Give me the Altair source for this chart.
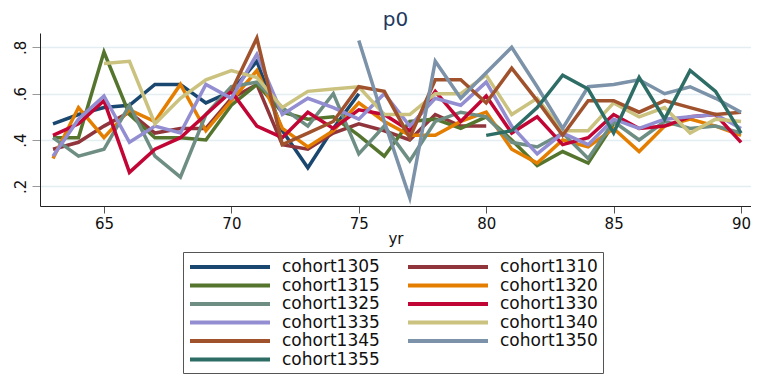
import altair as alt
import pandas as pd

cohorts = ["cohort1305", "cohort1310", "cohort1315", "cohort1320", "cohort1325", "cohort1330",
           "cohort1335", "cohort1340", "cohort1345", "cohort1350", "cohort1355"]
colors = ["#1a476f", "#90353b", "#55752f", "#e37e00", "#6e8e84", "#c10534",
          "#938dd2", "#cac27e", "#a0522d", "#7b92a8", "#2d6d66"]

# first year of each cohort's series
start_years = [63, 63, 63, 63, 63, 63, 63, 65, 70, 75, 80]

c1305 = [0.47, 0.51, 0.54, 0.55, 0.64, 0.64, 0.56, 0.61, 0.74, 0.44, 0.28, 0.45, 0.60]
c1310 = [0.36, 0.39, 0.46, 0.52, 0.43, 0.45, 0.45, 0.58, 0.64, 0.38, 0.36, 0.43, 0.47, 0.44,
         0.40, 0.51, 0.46, 0.46]
c1315 = [0.41, 0.41, 0.78, 0.51, 0.41, 0.41, 0.40, 0.55, 0.64, 0.52, 0.49, 0.50, 0.42, 0.33,
         0.48, 0.49, 0.45, 0.50, 0.40, 0.29, 0.35, 0.30, 0.47]
c1320 = [0.32, 0.54, 0.41, 0.53, 0.48, 0.64, 0.44, 0.57, 0.70, 0.45, 0.37, 0.44, 0.56, 0.48,
         0.42, 0.42, 0.48, 0.52, 0.36, 0.30, 0.40, 0.37, 0.45, 0.35, 0.46, 0.49, 0.46, 0.42]
c1325 = [0.41, 0.33, 0.36, 0.55, 0.33, 0.24, 0.51, 0.63, 0.65, 0.54, 0.46, 0.60, 0.34, 0.46,
         0.31, 0.48, 0.52, 0.50, 0.39, 0.37, 0.43, 0.32, 0.48, 0.40, 0.48, 0.45, 0.46, 0.43]
c1330 = [0.42, 0.47, 0.57, 0.26, 0.36, 0.41, 0.51, 0.61, 0.46, 0.41, 0.52, 0.45, 0.53, 0.51,
         0.44, 0.61, 0.48, 0.59, 0.43, 0.50, 0.38, 0.41, 0.51, 0.45, 0.46, 0.50, 0.51, 0.39]
c1335 = [0.33, 0.49, 0.59, 0.39, 0.46, 0.43, 0.64, 0.58, 0.77, 0.51, 0.58, 0.54, 0.49, 0.60,
         0.46, 0.58, 0.55, 0.65, 0.46, 0.34, 0.43, 0.38, 0.49, 0.45, 0.49, 0.50, 0.51, 0.45]
c1340 = [0.73, 0.74, 0.47, 0.58, 0.66, 0.70, 0.67, 0.54, 0.61, 0.62, 0.63, 0.51, 0.51, 0.60,
         0.60, 0.68, 0.51, 0.58, 0.44, 0.44, 0.56, 0.50, 0.54, 0.43, 0.49, 0.48]
c1345 = [0.61, 0.84, 0.38, 0.43, 0.48, 0.63, 0.61, 0.41, 0.66, 0.66, 0.56, 0.71, 0.57, 0.42,
         0.57, 0.57, 0.52, 0.57, 0.54, 0.51, 0.52]
c1350 = [0.83, 0.48, 0.15, 0.74, 0.58, 0.69, 0.80, 0.63, 0.45, 0.63, 0.64, 0.66, 0.60, 0.63,
         0.58, 0.52]
c1355 = [0.42, 0.44, 0.54, 0.68, 0.62, 0.43, 0.67, 0.49, 0.70, 0.61, 0.43]

series = [c1305, c1310, c1315, c1320, c1325, c1330, c1335, c1340, c1345, c1350, c1355]

x_ticks = [65, 70, 75, 80, 85, 90]
y_ticks = [0.2, 0.4, 0.6, 0.8]

rows = []
for name, start, vals in zip(cohorts, start_years, series):
    for i, v in enumerate(vals):
        rows.append({"cohort": name, "yr": start + i, "p0": v})
df = pd.DataFrame(rows)

FONT = "DejaVu Sans"

chart = alt.Chart(df).mark_line(strokeWidth=3.5, strokeJoin="miter", clip=True).encode(
    x=alt.X("yr:Q",
            scale=alt.Scale(domain=[62.49, 90.39], nice=False, zero=False),
            axis=alt.Axis(values=x_ticks, format="d", grid=False, title="yr",
                          labelFontSize=15, titleFontSize=15, titleFontWeight="normal",
                          tickSize=7, labelPadding=3, titlePadding=0,
                          domainColor="#222", tickColor="#555", labelColor="#111",
                          titleColor="#111")),
    y=alt.Y("p0:Q",
            scale=alt.Scale(domain=[0.115, 0.862], nice=False, zero=False),
            axis=alt.Axis(values=y_ticks, title=None, grid=True, gridColor="#e4edf1",
                          gridWidth=1.5, labelAngle=270, labelAlign="center",
                          labelBaseline="bottom", labelFontSize=15,
                          labelExpr="replace(format(datum.value, '.1f'), '0.', '.')",
                          tickSize=8, labelPadding=4, domainColor="#222",
                          tickColor="#999", labelColor="#111")),
    color=alt.Color("cohort:N",
                    scale=alt.Scale(domain=cohorts, range=colors),
                    legend=alt.Legend(title=None, orient="none", legendX=143, legendY=219,
                                      columns=2, direction="horizontal",
                                      symbolType="M-1,0L9,0", symbolSize=256,
                                      symbolStrokeWidth=4, labelFontSize=17,
                                      labelFont=FONT, labelOffset=74, columnPadding=20,
                                      rowPadding=0.5, padding=5, strokeColor="#555",
                                      fillColor="white", labelColor="#111", labelLimit=0)),
).properties(
    width=711,
    height=173,
    title=alt.TitleParams("p0", fontSize=20, font=FONT, color="#1f3a60",
                          fontWeight="normal", anchor="middle", offset=3),
    autosize=alt.AutoSizeParams(type="none"),
    padding={"left": 32, "top": 25, "right": 0, "bottom": 168},
).configure(
    font=FONT,
    background="white",
).configure_view(
    strokeWidth=0,
)

chart.save("out.html", embed_options={"renderer": "svg", "actions": False})
